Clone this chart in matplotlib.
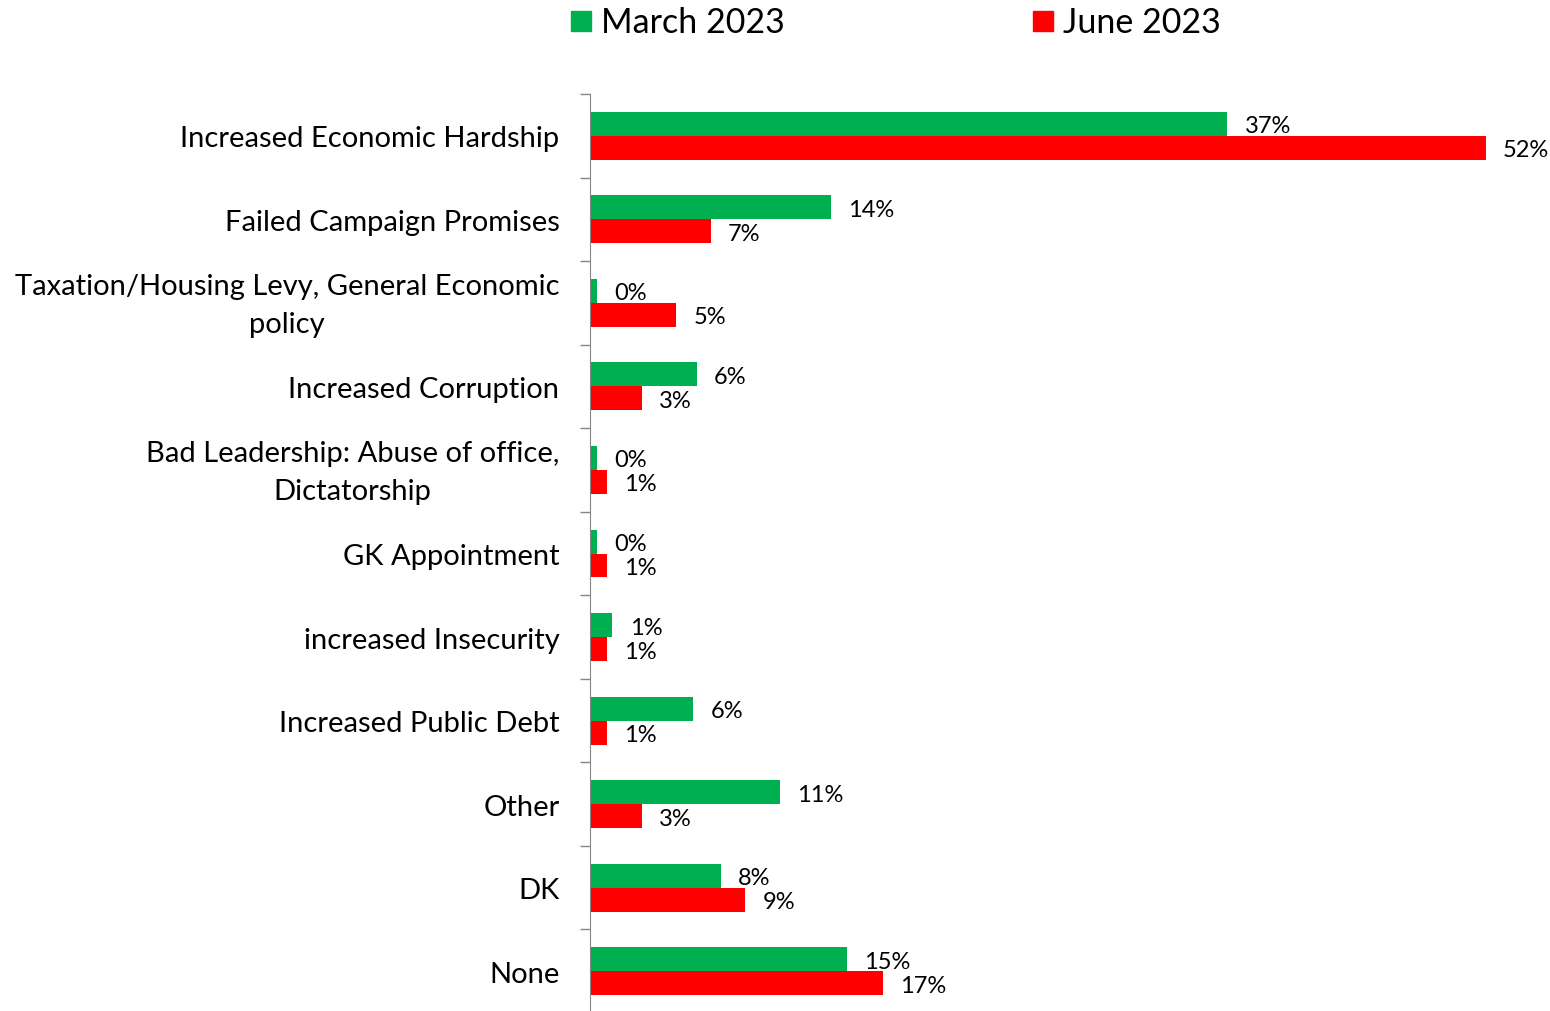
import matplotlib
matplotlib.use("Agg")
import matplotlib.pyplot as plt
from matplotlib.patches import Rectangle
from matplotlib.transforms import ScaledTranslation
import numpy as np

plt.rcParams['font.family'] = ['Lato', 'DejaVu Sans']

# data
categories = [
    "Increased Economic Hardship",
    "Failed Campaign Promises",
    "Taxation/Housing Levy, General Economic\npolicy",
    "Increased Corruption",
    "Bad Leadership: Abuse of office,\nDictatorship",
    "GK Appointment",
    "increased Insecurity",
    "Increased Public Debt",
    "Other",
    "DK",
    "None",
]
march_2023 = [37, 14, 0.4, 6.2, 0.4, 0.4, 1.3, 6, 11, 7.6, 14.9]
june_2023 = [52, 7, 5, 3, 1, 1, 1, 1, 3, 9, 17]
series_names = ["March 2023", "June 2023"]

green = "#00b050"
red = "#ff0000"

fig = plt.figure(figsize=(15.5, 10.12), dpi=100)
ax = fig.add_axes([590 / 1550, -0.002, 1 - 590 / 1550 - 0.008, 1 - 95 / 1012 + 0.002])

y = np.arange(len(categories))
h = 0.287
ax.barh(y - h / 2, march_2023, height=h, color=green)
ax.barh(y + h / 2, june_2023, height=h, color=red)

for i in range(len(categories)):
    ax.text(march_2023[i] + 1.0, y[i] - h / 2, f"{march_2023[i]:.0f}%",
            va="center_baseline", ha="left", fontsize=17)
    ax.text(june_2023[i] + 1.0, y[i] + h / 2, f"{june_2023[i]:.0f}%",
            va="center_baseline", ha="left", fontsize=17)

ax.set_xlim(0, 55.0)
ax.set_ylim(len(categories) - 0.5, -0.5)
ax.set_yticks(y)
ax.set_yticklabels(categories, fontsize=21, linespacing=1.55)
ax.set_yticks(np.arange(len(categories) + 1) - 0.5, minor=True)
ax.tick_params(axis="y", which="major", length=0, pad=22)
ax.tick_params(axis="y", which="minor", length=7, color="#868686", width=1)
lift = ScaledTranslation(0, 6 / 100, fig.dpi_scale_trans)
for t in ax.get_yticklabels():
    t.set_horizontalalignment("right")
    t.set_multialignment("center")
    if "\n" in t.get_text():
        # two-line labels sit a bit high in the original
        t.set_transform(t.get_transform() + lift)
ax.set_xticks([])
for s in ["top", "right", "bottom"]:
    ax.spines[s].set_visible(False)
ax.spines["left"].set_color("#868686")

# legend drawn by hand at the top
for name, col, x0 in zip(series_names, [green, red], [571, 1033]):
    fig.add_artist(Rectangle((x0 / 1550, 1 - 32 / 1012), 20 / 1550, 20 / 1012,
                             transform=fig.transFigure, color=col))
    fig.text((x0 + 30) / 1550, 1 - 23 / 1012, name, fontsize=24.5,
             va="center", ha="left")

fig.savefig("out.png", dpi=100)
